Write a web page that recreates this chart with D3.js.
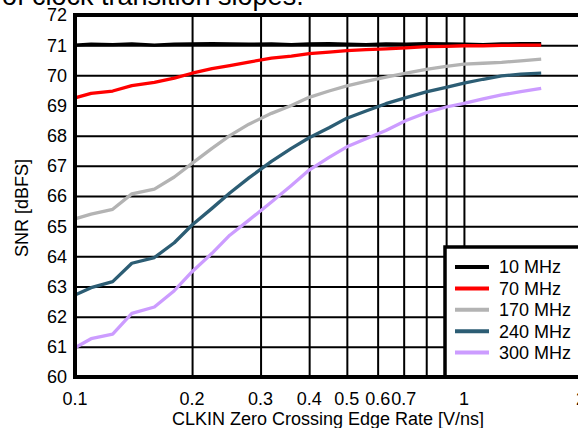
<!DOCTYPE html>
<meta charset="utf-8">
<script src="https://d3js.org/d3.v7.min.js"></script>
<style>
  body { margin: 0; background: #fff; }
  svg { display: block; font-family: "Liberation Sans", Arial, sans-serif; }
</style>
<div id="my_dataviz"></div>
<script>

// edge rates [V/ns] where the curves were sampled
const edgeRate = [0.1, 0.11, 0.125, 0.14, 0.16, 0.18, 0.2, 0.225, 0.25, 0.28, 0.32, 0.36, 0.4,
                  0.45, 0.5, 0.56, 0.63, 0.71, 0.8, 0.9, 1.0, 1.12, 1.25, 1.4, 1.58];

// SNR [dBFS] per clock frequency
const snr10 = [71.0, 71.03, 71.02, 71.04, 71.0, 71.03, 71.04, 71.05, 71.04, 71.03, 71.04, 71.02, 71.04,
               71.05, 71.03, 71.02, 71.04, 71.03, 71.05, 71.04, 71.03, 71.02, 71.04, 71.05, 71.05];
const snr70 = [69.25, 69.4, 69.48, 69.66, 69.77, 69.91, 70.07, 70.22, 70.32, 70.44, 70.57, 70.64, 70.72,
               70.77, 70.82, 70.85, 70.88, 70.91, 70.95, 70.96, 70.98, 70.98, 70.99, 71.0, 71.0];
const snr170 = [65.24, 65.4, 65.56, 66.07, 66.23, 66.63, 67.08, 67.58, 68.0, 68.38, 68.74, 69.0, 69.27,
                69.48, 69.65, 69.8, 69.94, 70.07, 70.2, 70.3, 70.37, 70.4, 70.43, 70.48, 70.54];
const snr240 = [62.72, 62.96, 63.16, 63.77, 63.96, 64.45, 65.04, 65.59, 66.1, 66.6, 67.15, 67.58, 67.93,
                68.26, 68.58, 68.82, 69.06, 69.26, 69.45, 69.6, 69.74, 69.87, 69.98, 70.04, 70.07];
const snr300 = [60.97, 61.27, 61.42, 62.11, 62.32, 62.86, 63.49, 64.1, 64.7, 65.2, 65.8, 66.35, 66.86,
                67.28, 67.63, 67.9, 68.17, 68.5, 68.76, 68.95, 69.07, 69.22, 69.35, 69.46, 69.57];

const seriesNames = ["10 MHz", "70 MHz", "170 MHz", "240 MHz", "300 MHz"];
const seriesColors = ["#000000", "#ff0000", "#b3b3b3", "#2c5d74", "#cc9cff"];
const seriesValues = [snr10, snr70, snr170, snr240, snr300];

const xGrid = [0.2, 0.3, 0.4, 0.5, 0.6, 0.7, 0.8, 0.9, 1, 2];
const xLabels = [0.1, 0.2, 0.3, 0.4, 0.5, 0.6, 0.7, 1, 2];
const yTicks = d3.range(60, 73);

const W = 578, H = 428;
const margin = {top: 15, right: -3, bottom: 51, left: 75},
    width = W - margin.left - margin.right,
    height = H - margin.top - margin.bottom;

const root = d3.select("#my_dataviz")
  .append("svg")
    .attr("width", W)
    .attr("height", H);

// caption text cut off at the top of the picture
root.append("text")
  .attr("x", 2)
  .attr("y", 5)
  .style("font-size", "27px")
  .text("of clock transition slopes.");

const svg = root.append("g")
  .attr("transform", `translate(${margin.left}, ${margin.top})`);

const x = d3.scaleLog()
  .domain([0.1, 2])
  .range([0, width]);

const y = d3.scaleLinear()
  .domain([60, 72])
  .range([height, 0]);

// grid
svg.append("g")
  .call(d3.axisLeft(y).tickValues(yTicks).tickSize(-width).tickFormat(""))
  .call(g => g.select(".domain").remove())
  .selectAll(".tick line").attr("stroke", "#000").attr("stroke-width", 2);

svg.append("g")
  .call(d3.axisBottom(x).tickValues(xGrid).tickSize(height).tickSizeOuter(0).tickFormat(""))
  .call(g => g.select(".domain").remove())
  .selectAll(".tick line").attr("stroke", "#000").attr("stroke-width", 2);

// tick labels
svg.append("g")
  .selectAll("text")
  .data(yTicks)
  .join("text")
    .attr("x", -8)
    .attr("y", d => y(d))
    .attr("dy", "0.36em")
    .attr("text-anchor", "end")
    .style("font-size", "18px")
    .text(d => d);

svg.append("g")
  .selectAll("text")
  .data(xLabels)
  .join("text")
    .attr("x", d => x(d))
    .attr("y", height + 28)
    .attr("text-anchor", "middle")
    .style("font-size", "18px")
    .text(d => d);

// lines
const line = d3.line()
  .x((d, i) => x(edgeRate[i]))
  .y(d => y(d));

svg.selectAll(".myLine")
  .data(seriesValues)
  .join("path")
    .attr("class", "myLine")
    .attr("fill", "none")
    .attr("stroke", (d, i) => seriesColors[i])
    .attr("stroke-width", 3.3)
    .attr("stroke-linejoin", "round")
    .attr("d", line);

// legend (box runs off the right side and sits on the bottom frame)
const legendTop = 247 - margin.top;
const legend = svg.append("g")
  .attr("transform", `translate(${445 - margin.left}, ${legendTop})`);

legend.append("rect")
  .attr("width", 200)
  .attr("height", height - legendTop)
  .attr("fill", "#fff")
  .attr("stroke", "#000")
  .attr("stroke-width", 3.5);

const items = legend.selectAll(".item")
  .data(seriesNames)
  .join("g")
    .attr("class", "item")
    .attr("transform", (d, i) => `translate(0, ${20 + i * 21.4})`);

items.append("line")
  .attr("x1", 10)
  .attr("x2", 44)
  .attr("stroke", (d, i) => seriesColors[i])
  .attr("stroke-width", 4);

items.append("text")
  .attr("x", 54)
  .attr("dy", "0.36em")
  .style("font-size", "18px")
  .text(d => d);

// frame
svg.append("rect")
  .attr("x", 0)
  .attr("y", 0)
  .attr("width", width)
  .attr("height", height)
  .attr("fill", "none")
  .attr("stroke", "#000")
  .attr("stroke-width", 4);

// axis titles
svg.append("text")
  .attr("x", 253)
  .attr("y", height + 48)
  .attr("text-anchor", "middle")
  .style("font-size", "18px")
  .text("CLKIN Zero Crossing Edge Rate [V/ns]");

svg.append("text")
  .attr("transform", `translate(${-47}, ${y(65.6)}) rotate(-90)`)
  .attr("text-anchor", "middle")
  .style("font-size", "18px")
  .text("SNR [dBFS]");

</script>
